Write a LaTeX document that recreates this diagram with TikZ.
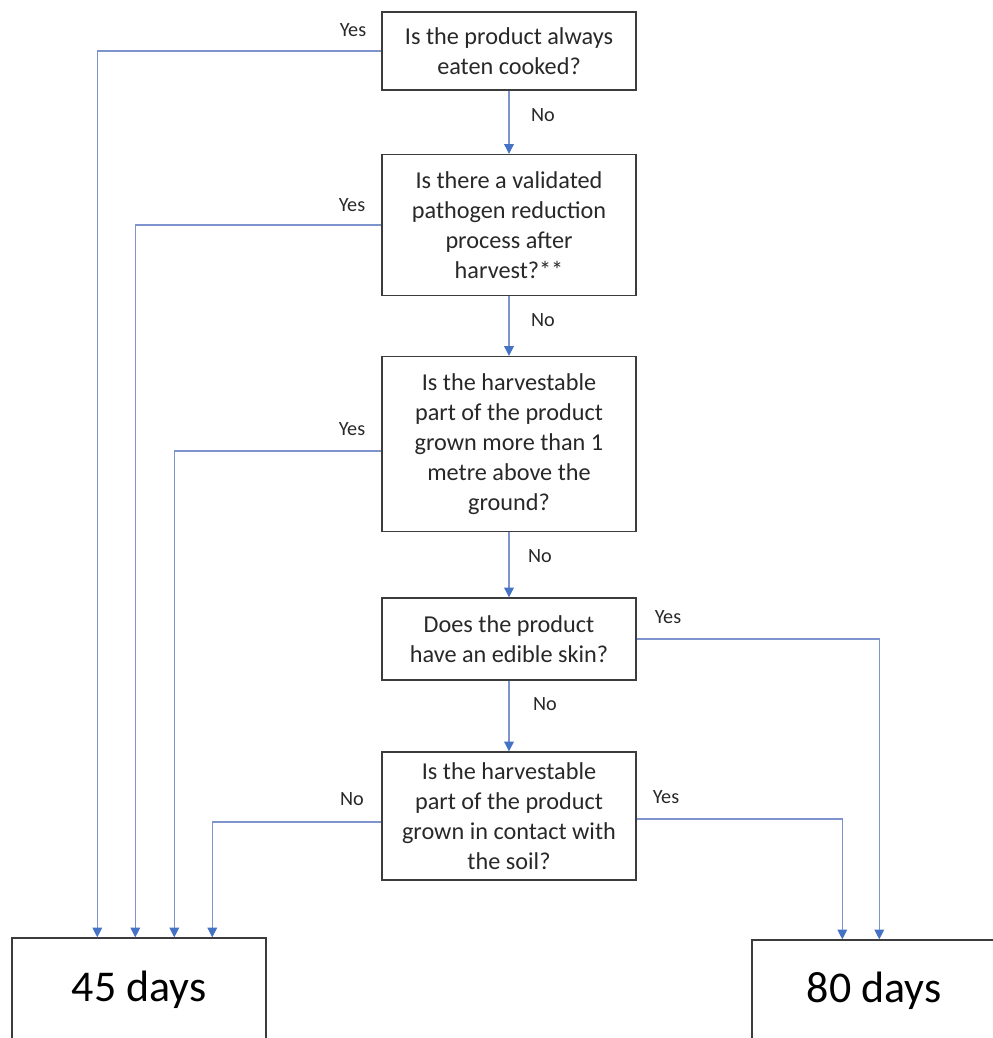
\documentclass[tikz,border=0pt]{standalone}
\usepackage{fontspec}
\setmainfont{Carlito}
\usetikzlibrary{arrows.meta}
\definecolor{flowline}{RGB}{125,148,205}
\definecolor{flowhead}{RGB}{68,114,196}
\definecolor{boxline}{RGB}{60,60,60}
\definecolor{boxtext}{RGB}{40,40,40}
\begin{document}
\begin{tikzpicture}[x=0.02cm,y=-0.02cm,
    question/.style={draw=boxline,line width=0.8pt,minimum width=5.08cm,
      inner sep=0pt,align=center,text=boxtext,font=\fontsize{13.8}{17}\selectfont},
    outcome/.style={draw=boxline,line width=0.8pt,inner sep=0pt,
      text=black,font=\fontsize{25}{30}\selectfont},
    arr/.style={draw=flowline,line width=0.6pt,
      -{Triangle[length=5.5pt,width=5.5pt,color=flowhead]}},
    lbl/.style={inner sep=0pt,text=boxtext,font=\fontsize{11.5}{14}\selectfont}]
  \useasboundingbox (0,0) rectangle (992,1038);

  % Questions
  \node[question,minimum height=1.56cm] (q1) at (509,51)
    {Is the product always\\eaten cooked?};
  \node[question,minimum height=2.82cm] (q2) at (509,225)
    {Is there a validated\\pathogen reduction\\process after\\harvest?**};
  \node[question,minimum height=3.5cm] (q3) at (509,444)
    {Is the harvestable\\part of the product\\grown more than 1\\metre above the\\ground?};
  \node[question,minimum height=1.64cm] (q4) at (509,639)
    {Does the product\\have an edible skin?};
  \node[question,minimum height=2.56cm] (q5) at (509,816)
    {Is the harvestable\\part of the product\\grown in contact with\\the soil?};

  % Outcomes
  \node[outcome,minimum width=5.08cm,minimum height=2.08cm] (d45) at (139,990) {45 days};
  \node[outcome,minimum width=4.88cm,minimum height=2.04cm] (d80) at (874,991) {80 days};

  % No: down the middle
  \draw[arr] (q1) -- (q2);
  \draw[arr] (q2) -- (q3);
  \draw[arr] (q3) -- (q4);
  \draw[arr] (q4) -- (q5);

  % to 45 days
  \draw[arr] (q1.west) -| ([xshift=1.72cm]d45.north west);
  \draw[arr] (q2.west) -| ([xshift=2.48cm]d45.north west);
  \draw[arr] ([yshift=-0.14cm]q3.west) -| ([xshift=3.26cm]d45.north west);
  \draw[arr] ([yshift=-0.12cm]q5.west) -| ([xshift=4.02cm]d45.north west);

  % to 80 days
  \draw[arr] (q4.east) -| ([xshift=2.56cm]d80.north west);
  \draw[arr] ([yshift=-0.06cm]q5.east) -| ([xshift=1.82cm]d80.north west);

  % labels
  \node[lbl] (yes1) at (353,30) {Yes};
  \node[lbl] (no1) at (543,115) {No};
  \node[lbl] (yes2) at (352,205) {Yes};
  \node[lbl] (no2) at (543,320) {No};
  \node[lbl] (yes3) at (352,429) {Yes};
  \node[lbl] (no3) at (540,556) {No};
  \node[lbl] (yes4) at (668,617) {Yes};
  \node[lbl] (no4) at (545,704) {No};
  \node[lbl] (no5) at (352,799) {No};
  \node[lbl] (yes5) at (666,797) {Yes};
\end{tikzpicture}
\end{document}
